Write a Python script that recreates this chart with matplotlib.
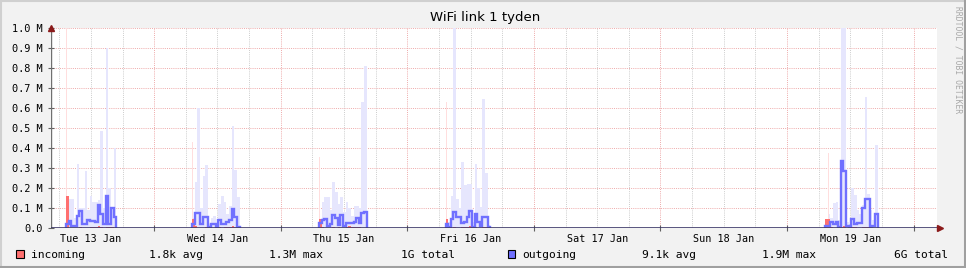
import numpy as np
import matplotlib.pyplot as plt
from matplotlib.lines import Line2D

# --- data (MB/s, 30 min steps, hours since Tue 13 Jan 00:00) ---
step_h = 0.5
t_start = 4.44
span_h = 168

tue_start = 7.3
tue_out_max = [0.02, 0.145, 0.145, 0.05, 0.32, 0.10, 0.10, 0.285, 0.09, 0.16,
               0.13, 0.13, 0.14, 0.485, 0.10, 0.90, 0.20, 0.10, 0.40]
tue_out_avg = [0.02, 0.035, 0.01, 0.01, 0.06, 0.085, 0.02, 0.02, 0.04, 0.035,
               0.035, 0.03, 0.115, 0.07, 0.02, 0.16, 0.02, 0.10, 0.057]
tue_in_max = [1.3, 0, 0, 0, 0, 0, 0, 0, 0, 0, 0, 0, 0, 0, 0, 0, 0, 0, 0]
tue_in_avg = [0.16, 0, 0, 0, 0, 0.005, 0, 0, 0, 0.003, 0.003, 0.003, 0.012,
              0.005, 0, 0.006, 0.006, 0.003, 0]

wed_start = 31.2
wed_out_max = [0.05, 0.23, 0.60, 0.10, 0.26, 0.315, 0.02, 0.05, 0.06, 0.01,
               0.12, 0.16, 0.13, 0.07, 0.11, 0.51, 0.29, 0.157]
wed_out_avg = [0.02, 0.077, 0.077, 0.02, 0.057, 0.057, 0.005, 0.02, 0.02, 0.005,
               0.04, 0.02, 0.02, 0.03, 0.04, 0.093, 0.053, 0.005]
wed_in_max = [0.43, 0, 0, 0, 0, 0, 0, 0, 0, 0, 0, 0, 0, 0, 0, 0, 0, 0]
wed_in_avg = [0.045, 0.01, 0, 0, 0, 0.005, 0, 0, 0, 0, 0.003, 0, 0.004, 0.004,
              0.004, 0.012, 0.004, 0]

thu_start = 55.3
thu_out_max = [0.03, 0.13, 0.157, 0.157, 0.09, 0.23, 0.18, 0.12, 0.157, 0.08,
               0.13, 0.10, 0.06, 0.11, 0.11, 0.10, 0.63, 0.81]
thu_out_avg = [0.023, 0.04, 0.043, 0.01, 0.02, 0.065, 0.048, 0.015, 0.065, 0.01,
               0.025, 0.027, 0.023, 0.03, 0.048, 0.023, 0.073, 0.08]
thu_in_max = [0.357, 0, 0, 0, 0, 0, 0, 0, 0, 0, 0, 0, 0, 0, 0, 0, 0, 0]
thu_in_avg = [0.045, 0.004, 0, 0, 0, 0.006, 0, 0.003, 0, 0, 0.003, 0.01, 0.005,
              0.005, 0.005, 0.004, 0, 0]

fri_start = 79.25
fri_out_max = [0.03, 0.03, 0.16, 1.9, 0.145, 0.10, 0.33, 0.215, 0.22, 0.22,
               0.03, 0.32, 0.20, 0.107, 0.643, 0.277, 0.015]
fri_out_avg = [0.02, 0.005, 0.043, 0.082, 0.053, 0.053, 0.023, 0.03, 0.057, 0.087,
               0.007, 0.07, 0.03, 0.01, 0.057, 0.057, 0.007]
fri_in_max = [0.63, 0, 0, 0, 0, 0, 0, 0, 0, 0, 0, 0, 0, 0, 0, 0, 0]
fri_in_avg = [0.045, 0, 0, 0.005, 0, 0, 0.003, 0.003, 0.005, 0.008, 0, 0.005,
              0, 0, 0.004, 0.004, 0]

mon_start = 151.2
mon_out_max = [0.02, 0.07, 0.05, 0.127, 0.13, 0.04, 1.2, 1.2, 0.03, 0.02,
               0.20, 0.165, 0.09, 0.07, 0.115, 0.657, 0.17, 0.09, 0.04, 0.415]
mon_out_avg = [0.01, 0.012, 0.03, 0.02, 0.03, 0.005, 0.335, 0.287, 0.012, 0.005,
               0.045, 0.02, 0.023, 0.023, 0.10, 0.143, 0.143, 0.005, 0.01, 0.07]
mon_in_max = [0, 0.377, 0, 0, 0, 0, 0, 0, 0, 0, 0, 0, 0, 0, 0, 0, 0, 0, 0, 0]
mon_in_avg = [0.045, 0.045, 0.005, 0, 0, 0, 0.003, 0.01, 0, 0, 0.005, 0.005,
              0, 0, 0.003, 0.004, 0.003, 0, 0, 0]

day_labels = ["Tue 13 Jan", "Wed 14 Jan", "Thu 15 Jan", "Fri 16 Jan",
              "Sat 17 Jan", "Sun 18 Jan", "Mon 19 Jan"]
y_ticks = [0.0, 0.1, 0.2, 0.3, 0.4, 0.5, 0.6, 0.7, 0.8, 0.9, 1.0]

title = "WiFi link 1 tyden"
legend_in = ["incoming", "1.8k avg", "1.3M max", "1G total"]
legend_out = ["outgoing", "9.1k avg", "1.9M max", "6G total"]

clusters = [
    (tue_start, tue_out_max, tue_out_avg, tue_in_max, tue_in_avg),
    (wed_start, wed_out_max, wed_out_avg, wed_in_max, wed_in_avg),
    (thu_start, thu_out_max, thu_out_avg, thu_in_max, thu_in_avg),
    (fri_start, fri_out_max, fri_out_avg, fri_in_max, fri_in_avg),
    (mon_start, mon_out_max, mon_out_avg, mon_in_max, mon_in_avg),
]

# --- figure ---
W, H = 966, 268
fig = plt.figure(figsize=(W / 100, H / 100), dpi=100, facecolor="#f2f2f2")
ax = fig.add_axes([51 / W, (H - 228) / H, 886 / W, 200 / H], facecolor="white")

C_OUT_MAX = "#e6e6fd"
C_IN_MAX = "#ffdede"
C_IN = "#ff7070"
C_OUT = "#7070ff"

for start, omax, oavg, imax, iavg in clusters:
    t = start + step_h * np.arange(len(omax))
    ax.bar(t, omax, width=step_h, align="edge", color=C_OUT_MAX, lw=0, zorder=2)
for start, omax, oavg, imax, iavg in clusters:
    t = start + step_h * np.arange(len(imax))
    ax.bar(t, imax, width=step_h * 0.45, align="edge", color=C_IN_MAX, lw=0,
           zorder=2.5)
for start, omax, oavg, imax, iavg in clusters:
    t = start + step_h * np.arange(len(iavg))
    ax.bar(t, iavg, width=step_h, align="edge", color=C_IN, lw=0, zorder=3)
for start, omax, oavg, imax, iavg in clusters:
    xs = start + step_h * np.arange(len(oavg) + 1)
    ax.step(np.r_[xs[0], xs], np.r_[0, oavg, 0], where="post", color=C_OUT,
            lw=1.7, solid_joinstyle="miter", zorder=4)

ax.set_xlim(t_start, t_start + span_h)
ax.set_ylim(0, 1.0)

# grid
dot = (0, (1, 1.2))
for h in range(6, 172, 6):
    if h % 24:
        ax.axvline(h, color="#cccccc", lw=0.7, ls=dot, zorder=1)
for h in range(24, 172, 24):
    ax.axvline(h, color="#eeaaaa", lw=0.7, ls=dot, zorder=1)
for y in y_ticks[1:]:
    ax.axhline(y, color="#eeaaaa", lw=0.7, ls=dot, zorder=1)

for s in ax.spines.values():
    s.set_visible(False)
ax.axvline(t_start, color="#707070", lw=1, zorder=5)
ax.axhline(0, color="#3c3868", lw=1.2, zorder=5)

ax.set_yticks(y_ticks)
ax.set_yticklabels(["0.0"] + [f"{v:.1f} M" for v in y_ticks[1:]])
ax.set_xticks(range(24, 172, 24))
ax.set_xticklabels([])
ax.set_xticks([12 + 24 * i for i in range(7)], minor=True)
ax.set_xticklabels(day_labels, minor=True)
ax.tick_params(axis="y", direction="inout", length=4, width=0.8,
               color="#606060", pad=4, labelsize=7.4,
               labelfontfamily="DejaVu Sans Mono")
ax.tick_params(axis="x", which="major", direction="inout", length=4, width=0.8,
               color="#606060")
ax.tick_params(axis="x", which="minor", length=0, pad=4, labelsize=7.3,
               labelfontfamily="DejaVu Sans Mono")

# arrows
ax.plot([t_start], [1.0], marker="^", ms=5, color="#8b1a1a", clip_on=False,
        zorder=6)
ax.plot([t_start + span_h + 0.6], [0], marker=">", ms=5, color="#8b1a1a",
        clip_on=False, zorder=6)

# title and side text
fig.text(485 / W, 1 - 18 / H, title, ha="center", va="center", fontsize=9.5,
         family="DejaVu Sans")
fig.text(958 / W, 1 - 60 / H, "RRDTOOL / TOBI OETIKER", rotation=270,
         ha="center", va="center", fontsize=5.8, family="DejaVu Sans Mono",
         color="#a8a8a8")

# legend
ly = 1 - 254.5 / H
for (sq_x, color, items, xs) in [
        (16, C_IN, legend_in, [30.5, 149, 269, 401]),
        (507.5, C_OUT, legend_out, [522, 641.5, 761.5, 894.5])]:
    fig.patches.append(plt.Rectangle((sq_x / W, 1 - 258.3 / H), 7.8 / W, 8.3 / H,
                                     transform=fig.transFigure, facecolor=color,
                                     edgecolor="black", lw=0.8))
    for txt, x in zip(items, xs):
        fig.text(x / W, ly, txt, ha="left", va="center", fontsize=8.1,
                 family="DejaVu Sans Mono")

# frame
fig.add_artist(Line2D([0, 1], [1 - 1 / H, 1 - 1 / H], transform=fig.transFigure,
                      color="#d0d0d0", lw=1.5))
fig.add_artist(Line2D([1 / W, 1 / W], [0, 1], transform=fig.transFigure,
                      color="#d0d0d0", lw=1.5))
fig.add_artist(Line2D([0, 1], [1.5 / H, 1.5 / H], transform=fig.transFigure,
                      color="#a0a0a0", lw=2.2))
fig.add_artist(Line2D([1 - 1.5 / W, 1 - 1.5 / W], [0, 1], transform=fig.transFigure,
                      color="#a0a0a0", lw=2.2))

fig.savefig("out.png", dpi=100, facecolor=fig.get_facecolor())
